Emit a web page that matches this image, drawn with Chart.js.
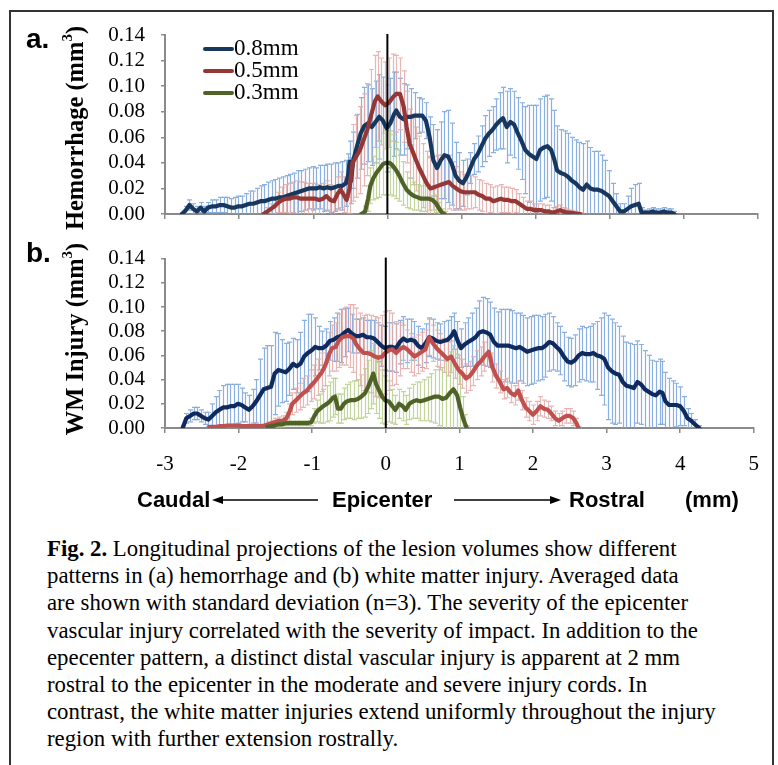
<!DOCTYPE html>
<html>
<head>
<meta charset="utf-8">
<script src="https://cdn.jsdelivr.net/npm/chart.js@4.4.1/dist/chart.umd.min.js"></script>
<style>
  html,body{margin:0;padding:0;background:#fff;}
  body{width:778px;height:765px;position:relative;overflow:hidden;}
  #frame{position:absolute;left:9px;top:10px;width:765px;height:800px;border:2px solid #333;border-bottom:none;box-sizing:border-box;}
  .cv{position:absolute;left:0;}
  .panel{position:absolute;font-family:"Liberation Sans",Arial,sans-serif;font-weight:bold;font-size:28px;color:#000;}
  .ytitle{position:absolute;font-family:"Liberation Serif","Times New Roman",serif;font-weight:bold;font-size:24.5px;white-space:nowrap;transform:translate(-50%,-50%) rotate(-90deg);}
  .ytitle sup{font-size:15px;vertical-align:top;position:relative;top:-2px;}
  .leg{position:absolute;left:203px;font-family:"Liberation Serif","Times New Roman",serif;font-size:23px;white-space:nowrap;line-height:22px;}
  .leg span.sw{display:inline-block;width:31px;height:4px;border-radius:2px;vertical-align:middle;position:relative;top:-1px;}
  .dir{position:absolute;font-family:"Liberation Sans",Arial,sans-serif;font-weight:bold;font-size:22px;white-space:nowrap;}
  #cap{position:absolute;left:47px;top:535px;font-family:"Liberation Serif","Times New Roman",serif;font-size:22.8px;line-height:27.2px;white-space:nowrap;color:#000;}
</style>
</head>
<body>
<div id="frame"></div>
<div class="cv" style="top:0;"><canvas id="ca" width="778" height="260"></canvas></div>
<div class="cv" style="top:230px;"><canvas id="cb" width="778" height="260"></canvas></div>

<div class="panel" style="left:26px;top:23px;">a.</div>
<div class="panel" style="left:26px;top:237px;">b.</div>
<div class="ytitle" style="left:75px;top:128px;">Hemorrhage (mm<sup>3</sup>)</div>
<div class="ytitle" style="left:75px;top:339px;">WM Injury (mm<sup>3</sup>)</div>

<div class="leg" style="top:37px;"><span class="sw" style="background:#17375E"></span>0.8mm</div>
<div class="leg" style="top:59px;"><span class="sw" style="background:#953735"></span>0.5mm</div>
<div class="leg" style="top:81px;"><span class="sw" style="background:#4F6228"></span>0.3mm</div>

<div class="dir" style="left:137px;top:487px;">Caudal</div>
<div class="dir" style="left:332px;top:487px;">Epicenter</div>
<div class="dir" style="left:569px;top:487px;">Rostral</div>
<div class="dir" style="left:685px;top:487px;">(mm)</div>
<svg style="position:absolute;left:0;top:490px;" width="778" height="20">
  <line x1="222" y1="10" x2="318" y2="10" stroke="#000" stroke-width="1.6"/>
  <polygon points="212,10 223,6 223,14" fill="#000"/>
  <line x1="454" y1="10" x2="551" y2="10" stroke="#000" stroke-width="1.6"/>
  <polygon points="561,10 550,6 550,14" fill="#000"/>
</svg>

<div id="cap"><b>Fig. 2.</b> Longitudinal projections of the lesion volumes show different<br>patterns in (a) hemorrhage and (b) white matter injury. Averaged data<br>are shown with standard deviation (n=3). The severity of the epicenter<br>vascular injury correlated with the severity of impact. In addition to the<br>epecenter pattern, a distinct distal vascular injury is apparent at 2 mm<br>rostral to the epicenter in the moderate and severe injury cords. In<br>contrast, the white matter injuries extend uniformly throughout the injury<br>region with further extension rostrally.</div>

<script>
// ---------- DATA (position along cord in mm, volume in mm^3, SD) ----------
const seriesNames = ["0.8mm", "0.5mm", "0.3mm"];
const xTicks = [-3, -2, -1, 0, 1, 2, 3, 4, 5];
const yTicks = [0, 0.02, 0.04, 0.06, 0.08, 0.10, 0.12, 0.14];

// (a) Hemorrhage
const hemX08 = [-2.77,-2.72,-2.67,-2.62,-2.57,-2.52,-2.47,-2.42,-2.36,-2.31,-2.26,-2.21,-2.16,-2.11,-2.06,-2.01,-1.96,-1.91,-1.86,-1.81,-1.76,-1.71,-1.66,-1.61,-1.56,-1.51,-1.46,-1.41,-1.36,-1.31,-1.26,-1.21,-1.16,-1.11,-1.06,-1.01,-0.96,-0.91,-0.86,-0.81,-0.76,-0.71,-0.66,-0.61,-0.56,-0.53,-0.51,-0.49,-0.46,-0.41,-0.36,-0.31,-0.26,-0.21,-0.16,-0.11,-0.06,-0.01,0.04,0.09,0.12,0.17,0.22,0.27,0.32,0.37,0.42,0.47,0.52,0.57,0.62,0.67,0.72,0.77,0.82,0.87,0.92,0.97,1.02,1.07,1.12,1.17,1.22,1.27,1.32,1.37,1.42,1.47,1.52,1.56,1.61,1.66,1.71,1.76,1.81,1.86,1.91,1.96,2.01,2.06,2.11,2.16,2.21,2.25,2.29,2.34,2.39,2.44,2.49,2.54,2.59,2.64,2.69,2.74,2.79,2.84,2.89,2.94,2.99,3.04,3.09,3.14,3.19,3.24,3.29,3.34,3.39,3.43,3.48,3.53,3.58,3.63,3.68,3.73,3.78,3.83,3.87];
const hemY08 = [0,0.003,0.007,0.004,0.002,0.005,0.002,0.005,0.006,0.006,0.007,0.007,0.006,0.005,0.005,0.006,0.006,0.007,0.008,0.008,0.009,0.010,0.010,0.011,0.012,0.012,0.013,0.013,0.014,0.015,0.016,0.017,0.018,0.019,0.020,0.020,0.020,0.021,0.020,0.021,0.020,0.021,0.022,0.022,0.024,0.030,0.041,0.026,0.042,0.053,0.063,0.069,0.071,0.068,0.072,0.076,0.073,0.067,0.071,0.078,0.081,0.076,0.074,0.076,0.076,0.077,0.077,0.077,0.073,0.060,0.042,0.036,0.042,0.046,0.045,0.039,0.030,0.026,0.024,0.029,0.036,0.043,0.047,0.053,0.059,0.063,0.066,0.070,0.073,0.075,0.068,0.072,0.070,0.063,0.057,0.050,0.047,0.045,0.043,0.050,0.052,0.053,0.050,0.043,0.034,0.032,0.031,0.029,0.026,0.024,0.021,0.019,0.023,0.020,0.019,0.019,0.018,0.016,0.014,0.010,0.006,0.002,0.002,0.004,0.006,0.007,0.008,0.001,0.001,0.001,0.002,0.001,0.001,0.002,0.001,0.001,0];
const hemSD08 = [0.001,0.003,0.004,0.004,0.004,0.004,0.004,0.004,0.005,0.005,0.006,0.006,0.007,0.007,0.008,0.008,0.008,0.009,0.010,0.010,0.011,0.012,0.013,0.014,0.014,0.015,0.015,0.016,0.016,0.016,0.016,0.017,0.016,0.016,0.016,0.017,0.016,0.017,0.018,0.018,0.019,0.019,0.018,0.019,0.018,0.017,0.016,0.018,0.022,0.025,0.028,0.030,0.030,0.030,0.032,0.033,0.034,0.034,0.035,0.033,0.030,0.030,0.028,0.025,0.022,0.018,0.014,0.013,0.014,0.016,0.028,0.030,0.030,0.034,0.036,0.032,0.026,0.022,0.018,0.014,0.012,0.012,0.014,0.016,0.018,0.018,0.018,0.020,0.022,0.024,0.028,0.026,0.026,0.028,0.030,0.034,0.038,0.040,0.042,0.040,0.040,0.040,0.040,0.038,0.035,0.034,0.034,0.034,0.034,0.034,0.035,0.036,0.034,0.032,0.030,0.030,0.028,0.026,0.020,0.014,0.010,0.006,0.006,0.010,0.014,0.016,0.016,0.004,0.002,0.003,0.003,0.003,0.003,0.003,0.003,0.003,0.002];

const hemX05 = [-1.67,-1.62,-1.57,-1.52,-1.47,-1.42,-1.37,-1.32,-1.27,-1.22,-1.17,-1.12,-1.07,-1.02,-0.97,-0.92,-0.87,-0.82,-0.77,-0.72,-0.67,-0.63,-0.59,-0.55,-0.51,-0.47,-0.42,-0.37,-0.32,-0.27,-0.22,-0.17,-0.13,-0.08,-0.03,0.02,0.07,0.12,0.17,0.22,0.26,0.30,0.34,0.38,0.43,0.48,0.53,0.58,0.63,0.68,0.73,0.78,0.83,0.88,0.93,0.98,1.03,1.08,1.13,1.18,1.23,1.28,1.33,1.38,1.43,1.48,1.53,1.58,1.63,1.68,1.73,1.78,1.83,1.88,1.93,1.98,2.03,2.08,2.13,2.18,2.23,2.28,2.33,2.38,2.43,2.48,2.53,2.60];
const hemY05 = [0,0.002,0.004,0.006,0.009,0.011,0.012,0.012,0.013,0.013,0.012,0.012,0.012,0.012,0.012,0.011,0.012,0.014,0.011,0.010,0.016,0.019,0.015,0.011,0.020,0.040,0.045,0.050,0.058,0.066,0.077,0.088,0.092,0.088,0.085,0.087,0.091,0.094,0.094,0.084,0.068,0.055,0.049,0.043,0.036,0.030,0.024,0.020,0.021,0.022,0.023,0.024,0.025,0.022,0.020,0.018,0.017,0.017,0.017,0.017,0.015,0.014,0.012,0.012,0.010,0.011,0.012,0.011,0.011,0.010,0.010,0.008,0.006,0.004,0.004,0.003,0.003,0.003,0.002,0.002,0.001,0.002,0.003,0.002,0.001,0.001,0.0005,0];
const hemSD05 = [0.001,0.003,0.004,0.006,0.008,0.010,0.011,0.012,0.012,0.013,0.013,0.013,0.012,0.012,0.012,0.012,0.012,0.012,0.012,0.012,0.013,0.014,0.014,0.015,0.020,0.030,0.032,0.034,0.036,0.036,0.036,0.036,0.035,0.034,0.034,0.035,0.034,0.030,0.028,0.028,0.028,0.027,0.026,0.025,0.025,0.025,0.025,0.025,0.024,0.024,0.023,0.022,0.021,0.019,0.017,0.015,0.014,0.013,0.013,0.012,0.012,0.012,0.012,0.011,0.011,0.011,0.011,0.010,0.010,0.010,0.009,0.008,0.007,0.006,0.006,0.005,0.005,0.005,0.005,0.005,0.004,0.004,0.004,0.003,0.003,0.002,0.002,0.001];

const hemX03 = [-0.35,-0.30,-0.26,-0.23,-0.19,-0.15,-0.11,-0.06,-0.02,0.03,0.07,0.12,0.16,0.21,0.26,0.31,0.36,0.41,0.46,0.51,0.56,0.61,0.66,0.70,0.74,0.77];
const hemY03 = [0,0.002,0.012,0.022,0.028,0.032,0.035,0.039,0.040,0.040,0.038,0.034,0.030,0.024,0.019,0.016,0.014,0.013,0.012,0.012,0.012,0.011,0.008,0.004,0.001,0];
const hemSD03 = [0.001,0.004,0.010,0.014,0.017,0.020,0.022,0.024,0.025,0.025,0.024,0.022,0.020,0.017,0.014,0.012,0.011,0.010,0.010,0.010,0.009,0.008,0.007,0.005,0.003,0.001];

// (b) White matter injury
const wmX08 = [-2.76,-2.71,-2.66,-2.61,-2.56,-2.51,-2.46,-2.41,-2.36,-2.31,-2.26,-2.21,-2.16,-2.11,-2.06,-2.01,-1.96,-1.91,-1.86,-1.81,-1.76,-1.71,-1.66,-1.61,-1.56,-1.51,-1.46,-1.41,-1.36,-1.31,-1.26,-1.21,-1.16,-1.11,-1.06,-1.01,-0.96,-0.91,-0.86,-0.81,-0.76,-0.71,-0.66,-0.61,-0.56,-0.51,-0.46,-0.41,-0.36,-0.31,-0.26,-0.21,-0.16,-0.11,-0.06,-0.01,0.04,0.09,0.14,0.19,0.24,0.29,0.34,0.39,0.44,0.49,0.54,0.59,0.64,0.69,0.74,0.79,0.84,0.89,0.93,0.97,1.02,1.07,1.12,1.17,1.22,1.27,1.32,1.37,1.42,1.47,1.52,1.57,1.62,1.67,1.72,1.77,1.82,1.87,1.92,1.97,2.02,2.07,2.12,2.17,2.22,2.27,2.32,2.37,2.42,2.47,2.52,2.57,2.62,2.67,2.72,2.77,2.82,2.87,2.92,2.97,3.02,3.07,3.12,3.17,3.22,3.27,3.32,3.37,3.42,3.47,3.52,3.57,3.62,3.67,3.72,3.76,3.80,3.85,3.90,3.95,4.00,4.05,4.10,4.15,4.20,4.26];
const wmY08 = [0,0.008,0.010,0.012,0.012,0.010,0.008,0.007,0.010,0.013,0.015,0.017,0.017,0.018,0.018,0.020,0.019,0.017,0.015,0.018,0.022,0.027,0.032,0.033,0.034,0.045,0.048,0.047,0.046,0.049,0.053,0.051,0.053,0.059,0.062,0.064,0.067,0.066,0.066,0.068,0.072,0.073,0.075,0.076,0.079,0.081,0.078,0.076,0.076,0.077,0.075,0.075,0.074,0.071,0.068,0.066,0.067,0.067,0.066,0.071,0.074,0.072,0.073,0.072,0.068,0.066,0.070,0.075,0.074,0.072,0.071,0.072,0.073,0.076,0.080,0.073,0.066,0.069,0.071,0.073,0.075,0.079,0.080,0.079,0.077,0.071,0.068,0.068,0.068,0.068,0.067,0.066,0.067,0.065,0.063,0.064,0.065,0.066,0.066,0.068,0.071,0.070,0.067,0.064,0.059,0.055,0.054,0.056,0.060,0.062,0.061,0.061,0.062,0.060,0.059,0.057,0.050,0.047,0.045,0.044,0.038,0.035,0.034,0.033,0.038,0.036,0.032,0.030,0.028,0.027,0.030,0.029,0.022,0.019,0.019,0.019,0.018,0.014,0.008,0.006,0.003,0];
const wmSD08 = [0.002,0.004,0.005,0.005,0.005,0.005,0.005,0.006,0.010,0.013,0.016,0.018,0.019,0.018,0.018,0.016,0.014,0.012,0.012,0.014,0.018,0.030,0.034,0.035,0.034,0.034,0.030,0.026,0.024,0.022,0.021,0.022,0.026,0.030,0.032,0.030,0.024,0.018,0.014,0.014,0.016,0.018,0.020,0.022,0.020,0.018,0.016,0.014,0.014,0.014,0.014,0.014,0.015,0.016,0.017,0.018,0.020,0.020,0.020,0.018,0.018,0.018,0.017,0.016,0.016,0.016,0.016,0.016,0.016,0.015,0.015,0.016,0.016,0.016,0.015,0.015,0.016,0.018,0.020,0.022,0.024,0.026,0.028,0.028,0.027,0.028,0.028,0.030,0.030,0.030,0.030,0.029,0.028,0.028,0.028,0.028,0.028,0.027,0.026,0.026,0.024,0.022,0.020,0.020,0.020,0.020,0.020,0.021,0.022,0.022,0.022,0.023,0.024,0.028,0.032,0.038,0.043,0.043,0.042,0.040,0.038,0.036,0.036,0.036,0.034,0.033,0.032,0.030,0.028,0.028,0.027,0.026,0.024,0.022,0.020,0.018,0.016,0.012,0.008,0.006,0.004,0.002];

const wmX05 = [-2.40,-2.35,-2.30,-2.25,-2.20,-2.15,-2.10,-2.05,-2.00,-1.95,-1.90,-1.85,-1.80,-1.75,-1.70,-1.65,-1.60,-1.55,-1.50,-1.45,-1.40,-1.35,-1.31,-1.27,-1.22,-1.17,-1.12,-1.07,-1.02,-0.97,-0.92,-0.87,-0.82,-0.77,-0.73,-0.68,-0.64,-0.59,-0.54,-0.49,-0.44,-0.40,-0.35,-0.30,-0.25,-0.20,-0.15,-0.10,-0.05,-0.01,0.04,0.09,0.14,0.19,0.24,0.29,0.34,0.39,0.44,0.49,0.54,0.59,0.64,0.69,0.74,0.79,0.84,0.89,0.94,0.99,1.04,1.09,1.14,1.19,1.24,1.29,1.34,1.40,1.45,1.50,1.55,1.60,1.65,1.70,1.75,1.80,1.85,1.90,1.95,2.00,2.05,2.10,2.15,2.20,2.25,2.30,2.35,2.40,2.45,2.50,2.55,2.59,2.62];
const wmY05 = [0.001,0.001,0.001,0.0015,0.0015,0.002,0.002,0.002,0.002,0.0015,0.0015,0.0015,0.0015,0.0015,0.0015,0.002,0.003,0.004,0.005,0.006,0.006,0.008,0.013,0.020,0.023,0.026,0.029,0.031,0.035,0.038,0.042,0.046,0.052,0.061,0.066,0.067,0.072,0.075,0.076,0.076,0.074,0.069,0.065,0.062,0.062,0.061,0.059,0.058,0.059,0.062,0.064,0.065,0.062,0.065,0.067,0.065,0.062,0.059,0.061,0.063,0.065,0.075,0.070,0.066,0.063,0.060,0.057,0.059,0.053,0.048,0.045,0.041,0.043,0.047,0.052,0.055,0.059,0.063,0.050,0.043,0.038,0.032,0.033,0.029,0.027,0.031,0.023,0.017,0.014,0.011,0.014,0.018,0.016,0.015,0.012,0.008,0.006,0.008,0.010,0.010,0.008,0.004,0];
const wmSD05 = [0.001,0.001,0.001,0.001,0.001,0.001,0.001,0.001,0.001,0.001,0.001,0.001,0.001,0.001,0.001,0.001,0.002,0.002,0.003,0.003,0.004,0.005,0.007,0.009,0.010,0.011,0.012,0.012,0.013,0.014,0.015,0.016,0.017,0.018,0.019,0.020,0.022,0.023,0.024,0.026,0.028,0.030,0.030,0.031,0.032,0.032,0.033,0.033,0.034,0.034,0.033,0.030,0.026,0.022,0.018,0.016,0.016,0.016,0.016,0.016,0.016,0.015,0.015,0.015,0.015,0.014,0.014,0.013,0.012,0.012,0.012,0.012,0.012,0.012,0.012,0.012,0.012,0.012,0.012,0.010,0.009,0.008,0.008,0.008,0.008,0.008,0.008,0.008,0.008,0.008,0.008,0.008,0.007,0.007,0.006,0.006,0.006,0.006,0.006,0.006,0.006,0.004,0.001];

const wmX03 = [-1.61,-1.56,-1.51,-1.46,-1.41,-1.36,-1.31,-1.26,-1.21,-1.16,-1.11,-1.06,-1.01,-0.97,-0.93,-0.89,-0.85,-0.80,-0.76,-0.72,-0.69,-0.65,-0.61,-0.57,-0.53,-0.48,-0.43,-0.38,-0.33,-0.28,-0.24,-0.20,-0.17,-0.13,-0.09,-0.05,-0.01,0.04,0.09,0.13,0.18,0.23,0.27,0.32,0.37,0.42,0.47,0.52,0.57,0.62,0.67,0.72,0.77,0.82,0.87,0.92,0.97,1.01,1.05,1.08,1.10];
const wmY03 = [0.001,0.0015,0.002,0.003,0.003,0.004,0.004,0.004,0.004,0.004,0.004,0.004,0.005,0.010,0.014,0.016,0.018,0.020,0.022,0.025,0.026,0.016,0.016,0.020,0.022,0.023,0.023,0.024,0.026,0.029,0.034,0.040,0.045,0.036,0.031,0.026,0.023,0.022,0.018,0.015,0.020,0.018,0.015,0.020,0.022,0.023,0.022,0.023,0.024,0.025,0.026,0.026,0.024,0.025,0.029,0.032,0.027,0.017,0.008,0.003,0];
const wmSD03 = [0.001,0.001,0.001,0.002,0.002,0.002,0.002,0.002,0.002,0.002,0.002,0.002,0.003,0.006,0.009,0.012,0.014,0.015,0.016,0.016,0.015,0.012,0.012,0.013,0.014,0.015,0.016,0.016,0.018,0.020,0.022,0.024,0.025,0.024,0.023,0.022,0.020,0.017,0.014,0.012,0.012,0.012,0.012,0.013,0.014,0.015,0.016,0.017,0.018,0.020,0.022,0.024,0.026,0.030,0.034,0.036,0.034,0.028,0.018,0.008,0.002];

// ---------- helpers ----------
const pts = (xs, ys) => xs.map((x, i) => ({x: x, y: ys[i]}));

const errorBars = {
  id: 'errorBars',
  beforeDatasetsDraw(chart) {
    const {ctx, chartArea: a, scales: {x, y}} = chart;
    ctx.save();
    ctx.beginPath();
    ctx.rect(a.left, a.top - 8, a.right - a.left, a.bottom - a.top + 8);
    ctx.clip();
    chart.data.datasets.forEach(ds => {
      if (!ds.sd) return;
      ctx.strokeStyle = ds.errColor;
      ctx.lineWidth = 1.2;
      ds.data.forEach((p, j) => {
        const px = Math.round(x.getPixelForValue(p.x)) + 0.5;
        const t = y.getPixelForValue(p.y + ds.sd[j]);
        const b = y.getPixelForValue(p.y - ds.sd[j]);
        ctx.beginPath();
        ctx.moveTo(px, t); ctx.lineTo(px, b);
        ctx.moveTo(px - 2.5, t); ctx.lineTo(px + 2.5, t);
        ctx.moveTo(px - 2.5, b); ctx.lineTo(px + 2.5, b);
        ctx.stroke();
      });
    });
    ctx.restore();
  },
  afterDatasetsDraw(chart) {
    const {ctx, chartArea: a, scales: {x}} = chart;
    const px = x.getPixelForValue(0);
    ctx.save();
    ctx.strokeStyle = '#000';
    ctx.lineWidth = 2;
    ctx.beginPath();
    ctx.moveTo(px, a.top - 1);
    ctx.lineTo(px, a.bottom);
    ctx.stroke();
    ctx.restore();
  }
};

const serif = "'Liberation Serif','Times New Roman',serif";

function makeChart(id, sets, colors, errColors, showXLabels, target) {
  const fit = {xH: target.xH, yW: target.left};
  const ds = sets.map((s, i) => ({
    label: seriesNames[i],
    data: pts(s[0], s[1]),
    sd: s[2],
    errColor: errColors[i],
    borderColor: colors[i],
    backgroundColor: colors[i],
    borderWidth: 4.2,
    pointRadius: 0,
    showLine: true,
    tension: 0,
    borderJoinStyle: 'round',
    borderCapStyle: 'round',
    order: 3 - i
  }));
  const chart = new Chart(document.getElementById(id), {
    type: 'scatter',
    data: {datasets: ds},
    plugins: [errorBars],
    options: {
      responsive: false,
      animation: false,
      devicePixelRatio: 1,
      layout: {padding: {top: target.top, right: 20, left: 0, bottom: 0}},
      plugins: {legend: {display: false}, tooltip: {enabled: false}},
      scales: {
        x: {
          type: 'linear',
          min: xTicks[0], max: xTicks[xTicks.length - 1],
          afterBuildTicks: s => { s.ticks = xTicks.map(v => ({value: v})); },
          afterFit: s => { s.height = fit.xH; },
          grid: {display: true, drawOnChartArea: false, drawTicks: true, tickLength: 5, color: '#8a8a8a', lineWidth: 1.5},
          border: {display: true, color: '#8a8a8a', width: 2},
          ticks: {display: showXLabels, autoSkip: false, maxRotation: 0, padding: 19, color: '#000', font: {family: serif, size: 21}, callback: v => String(v)}
        },
        y: {
          type: 'linear',
          min: 0, max: 0.14,
          afterBuildTicks: s => { s.ticks = yTicks.map(v => ({value: v})); },
          afterFit: s => { s.width = fit.yW; },
          grid: {display: true, drawOnChartArea: false, drawTicks: true, tickLength: 4, color: '#8a8a8a', lineWidth: 1.5},
          border: {display: true, color: '#8a8a8a', width: 2},
          ticks: {autoSkip: false, padding: 16, color: '#000', font: {family: serif, size: 21}, callback: v => v.toFixed(2)}
        }
      }
    }
  });
  // nudge layout until the plot area sits where the reference has it
  for (let k = 0; k < 6; k++) {
    const a = chart.chartArea;
    const dT = target.top - a.top, dB = a.bottom - target.bottom;
    const dL = target.left - a.left, dR = a.right - target.right;
    if (Math.abs(dT) < 0.5 && Math.abs(dB) < 0.5 && Math.abs(dL) < 0.5 && Math.abs(dR) < 0.5) break;
    chart.options.layout.padding.top += dT;
    chart.options.layout.padding.right += dR;
    fit.xH += dB;
    fit.yW += dL;
    chart.update();
  }
  return chart;
}

makeChart('ca',
  [[hemX08, hemY08, hemSD08], [hemX05, hemY05, hemSD05], [hemX03, hemY03, hemSD03]],
  ['#17375E', '#953735', '#4F6228'],
  ['rgba(120,163,219,0.85)', 'rgba(226,170,168,0.85)', 'rgba(184,206,140,0.85)'],
  false, {top: 35, bottom: 214, left: 165, right: 758, xH: 46});

makeChart('cb',
  [[wmX08, wmY08, wmSD08], [wmX05, wmY05, wmSD05], [wmX03, wmY03, wmSD03]],
  ['#0E2A5E', '#C0504D', '#4F6228'],
  ['rgba(120,163,219,0.85)', 'rgba(226,170,168,0.85)', 'rgba(184,206,140,0.85)'],
  true, {top: 18, bottom: 198, left: 165, right: 758, xH: 62});
</script>
</body>
</html>
